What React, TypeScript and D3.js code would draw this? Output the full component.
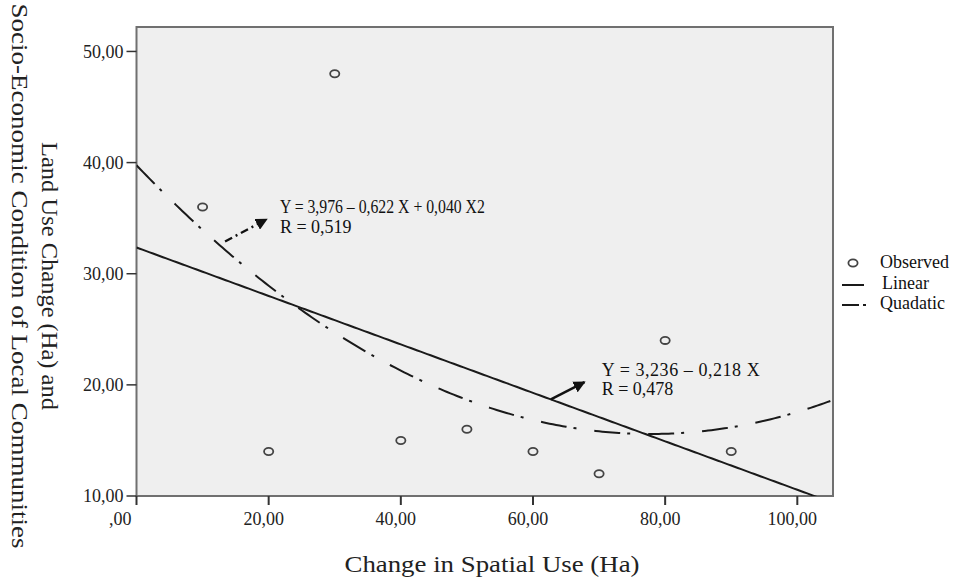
import React from 'react'
import * as d3 from 'd3'

// observed points
const spatialUse = [10, 20, 30, 40, 50, 60, 70, 80, 90]
const landUse = [36, 14, 48, 15, 16, 14, 12, 24, 14]

// fitted curves (coefficients)
const linearCoef = [32.36, -0.218]
const quadCoef = [39.76, -0.622, 0.004]

const xTicks = [0, 20, 40, 60, 80, 100]
const xTickLabels = [',00', '20,00', '40,00', '60,00', '80,00', '100,00']
const yTicks = [10, 20, 30, 40, 50]
const yTickLabels = ['10,00', '20,00', '30,00', '40,00', '50,00']

const legendLabels = ['Observed', 'Linear', 'Quadatic']
const quadText = ['Y = 3,976 \u2013 0,622 X + 0,040 X2', 'R  = 0,519']
const linText = ['Y = 3,236 \u2013 0,218 X', 'R  = 0,478']

const W = 957
const H = 578
const FONT = "'Liberation Serif', 'Times New Roman', Times, serif"

function App() {
  const x = d3.scaleLinear().domain([0, 105.4]).range([136.5, 833])
  const y = d3.scaleLinear().domain([10, 52.2]).range([496, 27])
  const [x0, x1] = x.range()
  const [yb, yt] = y.range()

  const xs = d3.range(0, 105.5, 0.5)
  const line = d3.line<number>().x(d => x(d)).y(d => y(linearCoef[0] + linearCoef[1] * d))
  const quad = d3.line<number>().x(d => x(d)).y(d => y(quadCoef[0] + quadCoef[1] * d + quadCoef[2] * d * d))

  const dashDot = '26,7,3,18'

  return (
    <svg width={W} height={H} style={{position: 'absolute', left: 0, top: 0, fontFamily: FONT}}>
      <defs>
        <clipPath id="plotclip">
          <rect x={x0} y={yt} width={x1 - x0} height={yb - yt} />
        </clipPath>
        <marker id="ah" viewBox="0 0 10 10" refX="9" refY="5" markerWidth="5" markerHeight="5"
          orient="auto" markerUnits="strokeWidth">
          <path d="M0,0 L10,5 L0,10 z" fill="#111" />
        </marker>
      </defs>
      <rect width={W} height={H} fill="#fff" />
      <rect x={x0} y={yt} width={x1 - x0} height={yb - yt} fill="#efefef" stroke="#707070" strokeWidth={2} />

      {/* y axis */}
      {yTicks.map((t, i) => (
        <g key={'y' + t}>
          <line x1={x0 - 10} x2={x0} y1={y(t)} y2={y(t)} stroke="#333" strokeWidth={1.5} />
          <text x={x0 - 13} y={y(t)} dy="0.35em" textAnchor="end" fontSize={18} fill="#222">{yTickLabels[i]}</text>
        </g>
      ))}
      {/* x axis */}
      {xTicks.map((t, i) => (
        <g key={'x' + t}>
          <line x1={x(t)} x2={x(t)} y1={yb} y2={yb + 9} stroke="#333" strokeWidth={2} />
          <text x={x(t) - 5} y={yb + 29} textAnchor={t === 0 ? 'end' : 'middle'}
            fontSize={18} fill="#222">{xTickLabels[i]}</text>
        </g>
      ))}

      <g clipPath="url(#plotclip)">
        <path d={line(xs) || ''} fill="none" stroke="#1a1a1a" strokeWidth={2} />
        <path d={quad(xs) || ''} fill="none" stroke="#1a1a1a" strokeWidth={2} strokeDasharray={dashDot} />
        {spatialUse.map((v, i) => (
          <ellipse key={i} cx={x(v)} cy={y(landUse[i])} rx={4.6} ry={3.6} fill="none" stroke="#444" strokeWidth={1.8} />
        ))}
      </g>

      {/* annotations */}
      <line x1={x(13.4)} y1={y(32.9)} x2={x(19.7)} y2={y(34.9)} stroke="#111" strokeWidth={2.4}
        strokeDasharray="8,4,2,4" markerEnd="url(#ah)" />
      <text x={x(21.7)} y={y(35.5)} fontSize={18} fill="#111" textLength={205} lengthAdjust="spacingAndGlyphs">{quadText[0]}</text>
      <text x={x(21.7)} y={y(33.7)} fontSize={18} fill="#111">{quadText[1]}</text>

      <line x1={x(62.7)} y1={y(18.7)} x2={x(67.8)} y2={y(20.25)} stroke="#111" strokeWidth={2.4} markerEnd="url(#ah)" />
      <text x={x(70.4)} y={y(20.8)} fontSize={18} fill="#111" textLength={158} lengthAdjust="spacing">{linText[0]}</text>
      <text x={x(70.4)} y={y(19.1)} fontSize={18} fill="#111">{linText[1]}</text>

      {/* legend */}
      <g fontSize={18} fill="#111">
        <ellipse cx={853} cy={263} rx={4.6} ry={3.6} fill="none" stroke="#444" strokeWidth={1.8} />
        <text x={880} y={268}>{legendLabels[0]}</text>
        <line x1={842} x2={864} y1={285} y2={285} stroke="#1a1a1a" strokeWidth={2} />
        <text x={882} y={289}>{legendLabels[1]}</text>
        <line x1={842} x2={859} y1={305} y2={305} stroke="#1a1a1a" strokeWidth={2} />
        <line x1={863} x2={866} y1={305} y2={305} stroke="#1a1a1a" strokeWidth={2} />
        <text x={880} y={309}>{legendLabels[2]}</text>
      </g>

      {/* axis titles */}
      <text x={492} y={572} textAnchor="middle" fontSize={24} fill="#222" textLength={295} lengthAdjust="spacingAndGlyphs">
        Change in Spatial Use (Ha)
      </text>
      <g transform="translate(42,276) rotate(90)">
        <text x={0} y={0} textAnchor="middle" fontSize={24} fill="#222" textLength={268} lengthAdjust="spacingAndGlyphs">
          Land Use Change (Ha) and
        </text>
      </g>
      <g transform="translate(12,276) rotate(90)">
        <text x={0} y={0} textAnchor="middle" fontSize={24} fill="#222" textLength={545} lengthAdjust="spacingAndGlyphs">
          Socio-Economic Condition of Local Communities
        </text>
      </g>
    </svg>
  )
}

export default App
